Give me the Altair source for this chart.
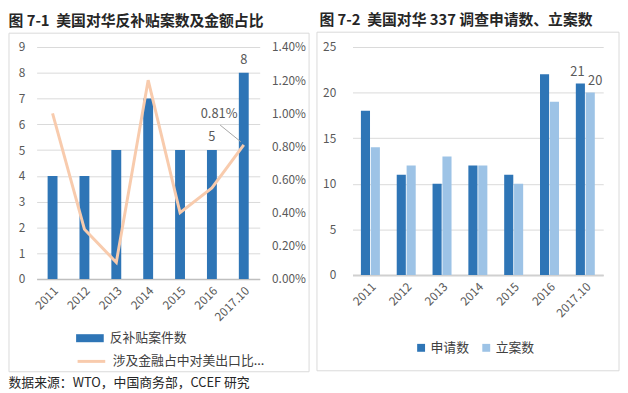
import altair as alt
import pandas as pd

years = ["2011", "2012", "2013", "2014", "2015", "2016", "2017.10"]
cvd_cases = [4, 4, 5, 7, 5, 5, 8]
export_share = [0.0100, 0.0030, 0.0010, 0.0120, 0.0040, 0.0055, 0.0081]
applications = [18, 11, 10, 12, 11, 22, 21]
filed = [14, 12, 13, 12, 10, 19, 20]

bar_label = "反补贴案件数"
line_label = "涉及金融占中对美出口比..."
s_app = "申请数"
s_fil = "立案数"

title1 = "图 7-1\u00a0\u00a0美国对华反补贴案数及金额占比"
title2 = "图 7-2\u00a0\u00a0美国对华 337 调查申请数、立案数"
footer = "数据来源：WTO，中国商务部，CCEF 研究"

FONT = "Noto Sans CJK SC"
TXT = "#595959"
GRID = "#D9D9D9"
BLUE = "#2E75B6"
LIGHT = "#9DC3E6"
PEACH = "#F8CBAD"
FRAME = "#D9D9D9"

df1 = pd.DataFrame({"year": years, "cases": cvd_cases, "share": export_share,
                    "bar": bar_label, "line": line_label})
df2 = pd.DataFrame({"year": years * 2,
                    "series": [s_app] * 7 + [s_fil] * 7,
                    "count": applications + filed})
one = alt.Data(values=[{"k": 1}])

# ---------------- left chart ----------------
W1, H1 = 226, 235
scale_xL = alt.Scale(domain=years, paddingInner=0.69, paddingOuter=0.345)
scale_cases = alt.Scale(domain=[0, 9])
scale_share = alt.Scale(domain=[0, 0.014])

axis_xL = alt.Axis(labelAngle=-45, labelFontSize=12, labelColor=TXT, ticks=False,
                   domainColor="#BFBFBF", domainWidth=1.5, labelPadding=6, grid=False,
                   title=None)
axis_cases = alt.Axis(values=list(range(10)), grid=True, gridColor=GRID, domain=False,
                      ticks=False, labelPadding=12, labelFontSize=12, labelColor=TXT,
                      labelOverlap=False, orient="left", title=None)
axis_share = alt.Axis(orient="right", format=".2%",
                      values=[0, 0.002, 0.004, 0.006, 0.008, 0.010, 0.012, 0.014],
                      grid=False, domain=False, ticks=False, labelPadding=12,
                      labelOverlap=False, labelFontSize=12, labelColor=TXT, title=None)

xL = alt.X("year:N", sort=years, scale=scale_xL, axis=axis_xL)
yC = alt.Y("cases:Q", scale=scale_cases, axis=axis_cases)
yS = alt.Y("share:Q", scale=scale_share, axis=axis_share)

frame1 = alt.Chart(one).mark_rect(fillOpacity=0, stroke=FRAME, strokeWidth=1).encode(
    x=alt.value(-28), x2=alt.value(276), y=alt.value(-14), y2=alt.value(329))

bars1 = alt.Chart(df1).mark_bar().encode(
    x=xL, y=yC,
    fill=alt.Fill("bar:N", scale=alt.Scale(domain=[bar_label], range=[BLUE]),
                  legend=alt.Legend(orient="none", legendX=40, legendY=281, title=None,
                                    symbolType="M-1,-0.29H1V0.29H-1Z", symbolSize=784,
                                    symbolStrokeWidth=0, labelFontSize=13, labelColor="#404040",
                                    labelFont=FONT, labelOffset=6)))

bartext1 = alt.Chart(df1).transform_filter(
    alt.FieldOneOfPredicate(field="year", oneOf=["2016", "2017.10"])
).mark_text(baseline="bottom", dy=-6, fontSize=13, color=TXT).encode(
    x=xL, y=yC, text=alt.Text("cases:Q"))

line1 = alt.Chart(df1).mark_line(strokeWidth=3).encode(
    x=xL, y=yS,
    stroke=alt.Stroke("line:N", scale=alt.Scale(domain=[line_label], range=[PEACH]),
                      legend=alt.Legend(orient="none", legendX=40, legendY=303, title=None,
                                        symbolType="stroke", symbolSize=784,
                                        symbolStrokeWidth=3, labelFontSize=13,
                                        labelColor="#404040", labelFont=FONT, labelOffset=6)))

last1 = alt.Chart(df1).transform_filter(alt.datum.year == "2017.10")
sharetext1 = last1.mark_text(dx=-25, dy=-31, fontSize=13, color=TXT).encode(
    x=xL, y=yS, text=alt.Text("share:Q", format=".2%"))
leader1 = last1.mark_rule(color="#A6A6A6", strokeWidth=1, xOffset=-24, yOffset=-20,
                          x2Offset=-3, y2Offset=-3).encode(
    x=xL, x2=alt.X2("year"), y=yS, y2=alt.Y2("share"))

left = alt.layer(
    alt.layer(frame1, bars1, bartext1),
    alt.layer(line1, leader1, sharetext1),
).resolve_scale(y="independent").properties(
    width=W1, height=H1,
    title=alt.TitleParams(title1, anchor="start", frame="bounds", fontSize=15,
                          fontWeight="bold", font=FONT, color="#262626", offset=4, dx=0))

# ---------------- right chart ----------------
W2, H2 = 254, 231
frame2 = alt.Chart(one).mark_rect(fillOpacity=0, stroke=FRAME, strokeWidth=1).encode(
    x=alt.value(-36), x2=alt.value(270), y=alt.value(-15), y2=alt.value(328))

scale_xR = alt.Scale(domain=years, paddingInner=0.47, paddingOuter=0.235)
scale_cnt = alt.Scale(domain=[0, 25])
axis_xR = alt.Axis(labelAngle=-45, labelFontSize=12, labelColor=TXT, ticks=False,
                   domainColor="#D0D0D0", domainWidth=2, labelPadding=6, grid=False,
                   title=None)
axis_cnt = alt.Axis(values=[0, 5, 10, 15, 20, 25], grid=True, gridColor=GRID,
                    domain=False, ticks=False, labelPadding=17, labelFontSize=12,
                    labelOverlap=False, labelColor=TXT, title=None)
xR = alt.X("year:N", sort=years, scale=scale_xR, axis=axis_xR)
yR = alt.Y("count:Q", scale=scale_cnt, axis=axis_cnt)
offR = alt.XOffset("series:N", sort=[s_app, s_fil],
                   scale=alt.Scale(domain=[s_app, s_fil], paddingInner=0.08))

bars2 = alt.Chart(df2).mark_bar().encode(
    x=xR, xOffset=offR, y=yR,
    color=alt.Color("series:N", scale=alt.Scale(domain=[s_app, s_fil], range=[BLUE, LIGHT]),
                    legend=alt.Legend(orient="none", legendX=63, legendY=298, title=None,
                                      direction="horizontal", symbolType="square",
                                      symbolSize=64, symbolStrokeWidth=0, labelFontSize=13,
                                      labelColor="#404040", labelFont=FONT, columnPadding=10,
                                      labelOffset=3)))

last2 = alt.Chart(df2).transform_filter(alt.datum.year == "2017.10")
text2a = last2.transform_filter(alt.datum.series == s_app).mark_text(
    baseline="bottom", dy=-5, dx=-3, fontSize=13, color=TXT).encode(
    x=xR, xOffset=offR, y=yR, text=alt.Text("count:Q"))
text2b = last2.transform_filter(alt.datum.series == s_fil).mark_text(
    baseline="bottom", dy=-5, dx=5, fontSize=13, color=TXT).encode(
    x=xR, xOffset=offR, y=yR, text=alt.Text("count:Q"))

right = alt.layer(frame2, bars2, text2a, text2b).properties(
    width=W2, height=H2,
    title=alt.TitleParams(title2, anchor="start", frame="bounds", fontSize=15,
                          fontWeight="bold", font=FONT, color="#262626", offset=4, dx=3))

chart = alt.hconcat(left, right, spacing=6).resolve_scale(
    color="independent", fill="independent", stroke="independent"
).resolve_legend(
    color="independent", fill="independent", stroke="independent"
).properties(
    padding={"left": 0, "top": 2, "right": 0, "bottom": 0},
    title=alt.TitleParams(footer, orient="bottom", anchor="start", frame="bounds",
                          fontSize=13, fontWeight="normal", font=FONT, color="#262626",
                          offset=5),
).configure(font=FONT).configure_view(stroke=None)

chart.save("out.html", embed_options={"renderer": "svg", "actions": False})
